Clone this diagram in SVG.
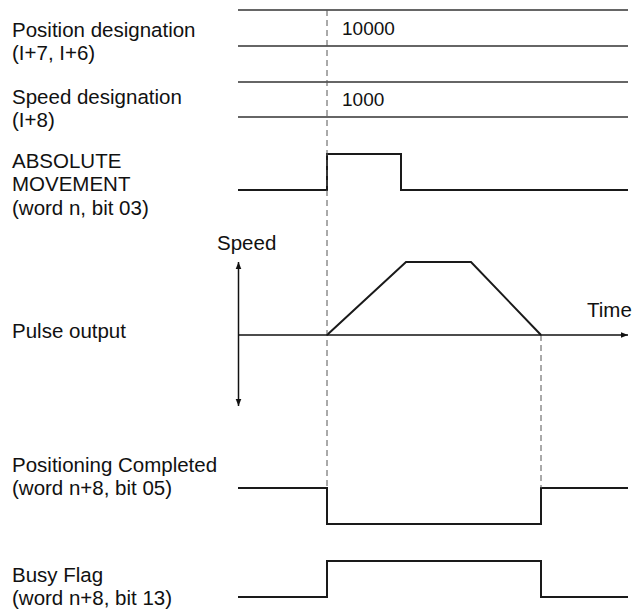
<svg xmlns="http://www.w3.org/2000/svg" width="634" height="610" viewBox="0 0 634 610">
<style>
text{font-family:"Liberation Sans",Arial,sans-serif;font-size:20.5px;fill:#111}
.v{font-size:19px}
.sig{fill:none;stroke:#1a1a1a;stroke-width:2}
.bus{fill:none;stroke:#333;stroke-width:1.6}
.dash{fill:none;stroke:#555;stroke-width:1;stroke-dasharray:6,4}
.ax{fill:none;stroke:#111;stroke-width:1.5}
</style>
<defs>
<marker id="ah" viewBox="0 0 10 10" refX="10" refY="5" markerWidth="7" markerHeight="7" markerUnits="userSpaceOnUse" orient="auto">
<path d="M0,1 L10,5 L0,9 Z" fill="#111"/>
</marker>
</defs>
<g id="labels">
<text x="12" y="37">Position designation</text>
<text x="12" y="60">(I+7, I+6)</text>
<text x="12" y="104">Speed designation</text>
<text x="12" y="127">(I+8)</text>
<text x="12" y="168">ABSOLUTE</text>
<text x="12" y="191">MOVEMENT</text>
<text x="12" y="215">(word n, bit 03)</text>
<text x="12" y="338">Pulse output</text>
<text x="12" y="472">Positioning Completed</text>
<text x="12" y="495">(word n+8, bit 05)</text>
<text x="12" y="582">Busy Flag</text>
<text x="12" y="605">(word n+8, bit 13)</text>
</g>
<g id="position-designation">
<line class="bus" x1="238" y1="10" x2="628" y2="10"/>
<line class="bus" x1="238" y1="46" x2="628" y2="46"/>
<text class="v" x="342" y="35">10000</text>
</g>
<g id="speed-designation">
<line class="bus" x1="238" y1="82" x2="628" y2="82"/>
<line class="bus" x1="238" y1="117" x2="628" y2="117"/>
<text class="v" x="342" y="106">1000</text>
</g>
<g id="absolute-movement">
<path class="sig" d="M238,190 H327 V154 H401 V190 H628"/>
</g>
<g id="pulse-output">
<text x="217" y="250">Speed</text>
<text x="587" y="317">Time</text>
<path class="sig" d="M327,335 L406,262 H471 L541,335"/>
</g>
<g id="positioning-completed">
<path class="sig" d="M238,488 H327 V524 H541 V488 H628"/>
</g>
<g id="busy-flag">
<path class="sig" d="M238,597 H327 V561 H541 V597 H628"/>
</g>
<g id="connectors">
<line class="dash" x1="327" y1="10" x2="327" y2="488"/>
<line class="dash" x1="541" y1="335" x2="541" y2="488"/>
<line class="ax" x1="238.5" y1="300" x2="238.5" y2="262" marker-end="url(#ah)"/>
<line class="ax" x1="238.5" y1="300" x2="238.5" y2="406" marker-end="url(#ah)"/>
<line class="ax" x1="238" y1="335" x2="628" y2="335" marker-end="url(#ah)"/>
</g>
</svg>
